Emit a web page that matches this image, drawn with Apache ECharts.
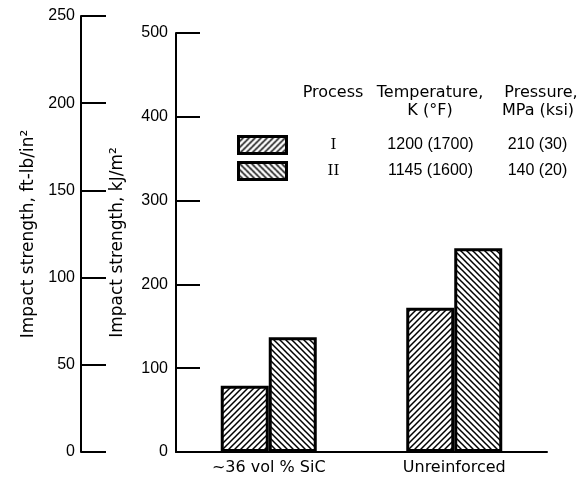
<!DOCTYPE html>
<html>
<head>
<meta charset="utf-8">
<script src="https://cdn.jsdelivr.net/npm/echarts@6/dist/echarts.min.js"></script>
<style>
  html, body { margin: 0; padding: 0; background: #fff; }
  #main { width: 580px; height: 483px; }
</style>
</head>
<body>
<div id="main"></div>
<script>
// data (kJ/m^2)
const categories = ['~36 vol % SiC', 'Unreinforced'];
const processNames = ['I', 'II'];
const processI = [79, 172];
const processII = [137, 243];
const temperatures = ['1200 (1700)', '1145 (1600)'];
const pressures = ['210 (30)', '140 (20)'];
const headings = ['Process', 'Temperature,', 'K (°F)', 'Pressure,', 'MPa (ksi)'];

const FONT = "'DejaVu Sans', sans-serif";
const NUMFONT = "'Liberation Sans', Arial, sans-serif";

// hatch patterns
function hatch(dir) {
  const s = 6;
  const c = document.createElement('canvas');
  c.width = s; c.height = s;
  const ctx = c.getContext('2d');
  ctx.fillStyle = '#fff';
  ctx.fillRect(0, 0, s, s);
  ctx.strokeStyle = '#000';
  ctx.lineWidth = 1.5;
  ctx.beginPath();
  if (dir > 0) {
    ctx.moveTo(-1, s + 1); ctx.lineTo(s + 1, -1);
    ctx.moveTo(-1, 1); ctx.lineTo(1, -1);
    ctx.moveTo(s - 1, s + 1); ctx.lineTo(s + 1, s - 1);
  } else {
    ctx.moveTo(-1, -1); ctx.lineTo(s + 1, s + 1);
    ctx.moveTo(s - 1, -1); ctx.lineTo(s + 1, 1);
    ctx.moveTo(-1, s - 1); ctx.lineTo(1, s + 1);
  }
  ctx.stroke();
  return { image: c, repeat: 'repeat' };
}

const chart = echarts.init(document.getElementById('main'), null, { renderer: 'canvas' });

function heading(text, x, y) {
  return {
    type: 'text', x: x, y: y,
    style: { text: text, font: '16px ' + FONT, fill: '#000', textAlign: 'center', textVerticalAlign: 'middle' }
  };
}

const option = {
  backgroundColor: '#fff',
  animation: false,
  textStyle: { fontFamily: FONT, color: '#000' },
  grid: [
    { left: 176, right: 33, top: 33, bottom: 31 },
    { left: 81, top: 16, bottom: 31, width: 10 }
  ],
  legend: {
    orient: 'vertical',
    left: 237,
    top: 135,
    padding: 0,
    itemWidth: 48,
    itemHeight: 17,
    itemGap: 6,
    icon: 'rect',
    selectedMode: false,
    itemStyle: { borderColor: '#000', borderWidth: 3 },
    data: processNames,
    formatter: function (name) {
      const i = processNames.indexOf(name);
      return '{p|' + name + '}{t|' + temperatures[i] + '}{s|' + pressures[i] + '}';
    },
    textStyle: {
      color: '#000',
      rich: {
        p: { width: 84, align: 'center', fontFamily: "'DejaVu Serif', serif", fontSize: 15, lineHeight: 18 },
        t: { width: 110, align: 'center', fontFamily: NUMFONT, fontSize: 16, lineHeight: 18 },
        s: { width: 104, align: 'center', fontFamily: NUMFONT, fontSize: 16, lineHeight: 18 }
      }
    }
  },
  graphic: [
    heading(headings[0], 333, 93),
    heading(headings[1], 430, 93),
    heading(headings[2], 430, 111),
    heading(headings[3], 541, 93),
    heading(headings[4], 538, 111)
  ],
  xAxis: [
    {
      type: 'category',
      gridIndex: 0,
      data: categories,
      axisLine: { lineStyle: { color: '#000', width: 2 } },
      axisTick: { show: false },
      axisLabel: { color: '#000', fontSize: 16, fontFamily: FONT, margin: 8 }
    },
    { type: 'value', gridIndex: 1, show: false }
  ],
  yAxis: [
    {
      type: 'value',
      gridIndex: 0,
      min: 0, max: 500, interval: 100,
      name: 'Impact strength, kJ/m²',
      nameLocation: 'middle',
      nameGap: 50,
      nameTextStyle: { fontSize: 17, fontFamily: FONT, color: '#000' },
      axisLine: { show: true, lineStyle: { color: '#000', width: 2 } },
      axisTick: { show: true, inside: true, length: 24, lineStyle: { color: '#000', width: 2 } },
      axisLabel: { color: '#000', fontSize: 16, fontFamily: NUMFONT, margin: 8 },
      splitLine: { show: false }
    },
    {
      type: 'value',
      gridIndex: 1,
      min: 0, max: 250, interval: 50,
      name: 'Impact strength, ft-lb/in²',
      nameLocation: 'middle',
      nameGap: 44,
      nameTextStyle: { fontSize: 17, fontFamily: FONT, color: '#000' },
      axisLine: { show: true, lineStyle: { color: '#000', width: 2 } },
      axisTick: { show: true, inside: true, length: 25, lineStyle: { color: '#000', width: 2 } },
      axisLabel: { color: '#000', fontSize: 16, fontFamily: NUMFONT, margin: 6 },
      splitLine: { show: false }
    }
  ],
  series: [
    {
      name: processNames[0],
      type: 'bar',
      xAxisIndex: 0, yAxisIndex: 0,
      barWidth: 48,
      barGap: '0%',
      data: processI,
      itemStyle: { color: hatch(1), borderColor: '#000', borderWidth: 3 }
    },
    {
      name: processNames[1],
      type: 'bar',
      xAxisIndex: 0, yAxisIndex: 0,
      barWidth: 48,
      barGap: '0%',
      data: processII,
      itemStyle: { color: hatch(-1), borderColor: '#000', borderWidth: 3 }
    }
  ]
};

chart.setOption(option);
</script>
</body>
</html>
